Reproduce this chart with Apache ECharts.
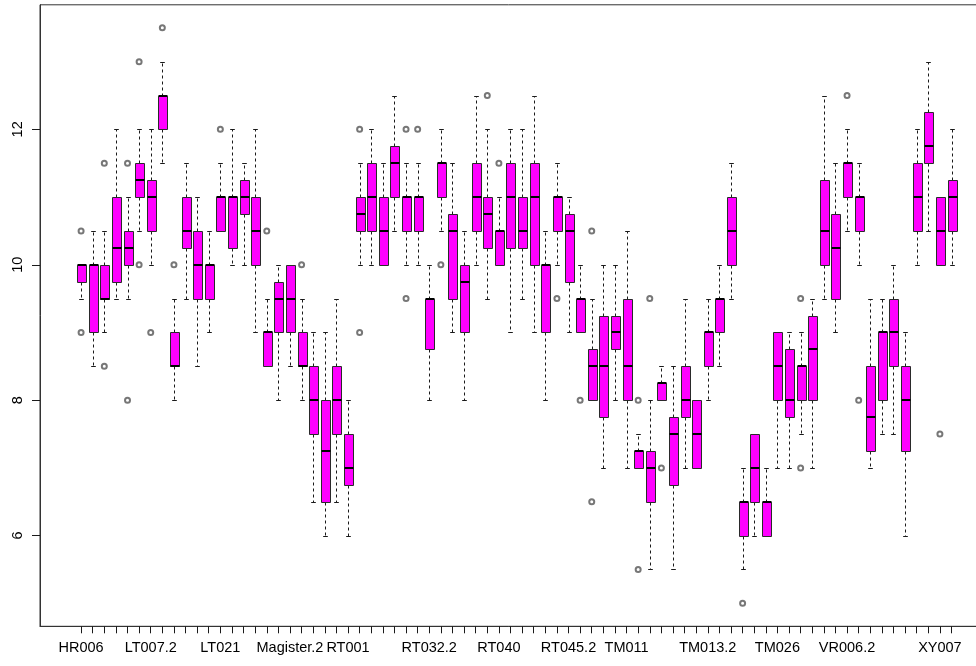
<!DOCTYPE html>
<html><head><meta charset="utf-8">
<script src="https://cdn.jsdelivr.net/npm/echarts@6/dist/echarts.min.js"></script>
<style>html,body{margin:0;padding:0;background:#fff}#c{width:976px;height:666px}</style>
</head><body><div id="c"></div>
<script>
const categories = ["HR006","HR006.2","HR008","HR008.2","LT002","LT002.2","LT007.2","LT009","LT009.2","LT013",
"LT013.2","LT018","LT021","LT021.2","LT025","LT025.2","Magister","Magister.1","Magister.2","Magister.3",
"RS010","RS010.2","RS014","RT001","RT001.2","RT012","RT012.2","RT019","RT019.2","RT032",
"RT032.2","RT034","RT034.2","RT036","RT036.2","RT038","RT040","RT040.2","RT042","RT042.2",
"RT044","RT045","RT045.2","RT049","RT049.2","TM004","TM004.2","TM011","TM011.2","TM012",
"TM012.2","TM012.3","TM013","TM013.1","TM013.2","TM018","TM018.2","TM020","TM020.2","TM024",
"TM026","TM026.2","TM029","TM029.2","VR001","VR006","VR006.2","VR011","VR011.2","VR015",
"VR015.2","XY002","XY002.2","XY005","XY007","XY007.2"];
const whiskerLow = [9.5,8.5,9,9.5,9.5,10.5,10,11.5,8,9.5, 8.5,9,10.5,10,10,9,8.5,8,8.5,8, 6.5,6,6.5,6,10,10,10,10.5,10,10,
8,10.5,9,8,10,9.5,10,9,9.5,9, 8,10,9,9,8,7,8,7,7,5.5, 8,5.5,7,7,8,8.5,9.5,5.5,6,6, 7,7,7.5,7,9.5,9,10.5,10,7,7.5, 7.5,6,10,10.5,10,10];
const quartile1 = [9.75,9,9.5,9.75,10,11,10.5,12,8.5,10.25, 9.5,9.5,10.5,10.25,10.75,10,8.5,9,9,8.5, 7.5,6.5,7.5,6.75,10.5,10.5,10,11,10.5,10.5,
8.75,11,9.5,9,10.5,10.25,10,10.25,10.25,10, 9,10.5,9.75,9,8,7.75,8.75,8,7,6.5, 8,6.75,7.75,7,8.5,9,10,6,6.5,6, 8,7.75,8,8,10,9.5,11,10.5,7.25,8, 8.5,7.25,10.5,11.5,10,10.5];
const median = [10,10,9.5,10.25,10.25,11.25,11,12.5,8.5,10.5, 10,10,11,11,11,10.5,9,9.5,9.5,8.5, 8,7.25,8,7,10.75,11,10.5,11.5,11,11,
9.5,11.5,10.5,9.75,11,10.75,10.5,11,10.5,11, 10,11,10.5,9.5,8.5,8.5,9,8.5,7.25,7, 8.25,7.5,8,7.5,9,9.5,10.5,6.5,7,6.5, 8.5,8,8.5,8.75,10.5,10.25,11.5,11,7.75,9, 9,8,11,11.75,10.5,11];
const quartile3 = [10,10,10,11,10.5,11.5,11.25,12.5,9,11, 10.5,10,11,11,11.25,11,9,9.75,10,9, 8.5,8,8.5,7.5,11,11.5,11,11.75,11,11,
9.5,11.5,10.75,10,11.5,11,10.5,11.5,11,11.5, 10,11,10.75,9.5,8.75,9.25,9.25,9.5,7.25,7.25, 8.25,7.75,8.5,8,9,9.5,11,6.5,7.5,6.5, 9,8.75,8.5,9.25,11.25,10.75,11.5,11,8.5,9, 9.5,8.5,11.5,12.25,11,11.25];
const whiskerHigh = [10,10.5,10.5,12,11,12,12,13,9.5,11.5, 11,10.5,11.5,12,11.5,12,9.5,10,10,9.5, 9,9,9.5,8,11.5,12,11.5,12.5,11.5,11.5,
10,12,11.5,10.5,12.5,12,11,12,12,12.5, 10.5,11.5,11,10,9.5,10,10,10.5,7.5,8, 8.5,8.5,9.5,8,9.5,10,11.5,7,7.5,7, 9,9,9,9.5,12.5,11.5,12,11.5,9.5,9.5, 10,9,12,13,11,12];
const outliers = [[1,10.5],[1,9],[3,11.5],[3,8.5],[5,11.5],[5,8],[6,13],[6,10],[7,9],[8,13.5],[9,10],[13,12],[17,10.5],[20,10],
[25,12],[25,9],[29,12],[29,9.5],[30,12],[32,10],[36,12.5],[37,11.5],[42,9.5],[44,8],[45,10.5],[45,6.5],[49,8],[49,5.5],
[50,9.5],[51,7],[58,5],[63,9.5],[63,7],[67,12.5],[68,8],[75,7.5]];
const shownLabels = [1,7,13,19,24,31,37,43,48,55,61,67,75];
const yTicks = [6,8,10,12];

const n = categories.length;
const boxData = categories.map((c, i) => [i + 1, whiskerLow[i], quartile1[i], median[i], quartile3[i], whiskerHigh[i]]);
const allVals = whiskerLow.concat(whiskerHigh, outliers.map(o => o[1]));
const dMin = Math.min(...allVals), dMax = Math.max(...allVals);
const yPad = (dMax - dMin) * 0.04;
const xPad = 0.5 + 0.04 * n;

const FONT = "'Liberation Sans', Arial, sans-serif";
const INK = '#1a1a1a';

function crisp(v) { return Math.round(v) + 0.5; }

function renderBox(params, api) {
  const x = api.value(0);
  const pLo = api.coord([x, api.value(1)]);
  const pQ1 = api.coord([x, api.value(2)]);
  const pMd = api.coord([x, api.value(3)]);
  const pQ3 = api.coord([x, api.value(4)]);
  const pHi = api.coord([x, api.value(5)]);
  const w = api.size([0.8, 0])[0];
  const cx = crisp(pLo[0]);
  const half = w / 2, st = w / 4;
  const yLo = crisp(pLo[1]), yQ1 = crisp(pQ1[1]), yQ3 = crisp(pQ3[1]), yHi = crisp(pHi[1]);
  const dash = { stroke: INK, lineWidth: 1, lineDash: [3, 3] };
  const solid = { stroke: INK, lineWidth: 1 };
  const bx = Math.round(cx - half) + 0.5, bw = Math.round(w);
  return { type: 'group', children: [
    { type: 'line', shape: { x1: cx, y1: yQ3, x2: cx, y2: yHi }, style: dash },
    { type: 'line', shape: { x1: cx, y1: yQ1, x2: cx, y2: yLo }, style: dash },
    { type: 'line', shape: { x1: cx - st, y1: yHi, x2: cx + st, y2: yHi }, style: solid },
    { type: 'line', shape: { x1: cx - st, y1: yLo, x2: cx + st, y2: yLo }, style: solid },
    { type: 'rect', shape: { x: bx, y: yQ3, width: bw, height: yQ1 - yQ3 },
      style: { fill: '#ff00ff', stroke: '#2a2a2a', lineWidth: 1 } },
    { type: 'line', shape: { x1: bx, y1: Math.round(pMd[1]), x2: bx + bw, y2: Math.round(pMd[1]) },
      style: { stroke: '#000', lineWidth: 2 } }
  ]};
}

const chart = echarts.init(document.getElementById('c'), null, { renderer: 'canvas' });
chart.setOption({
  animation: false,
  backgroundColor: '#fff',
  grid: { left: 40, top: 4.8, right: -16.6, bottom: 39.7, show: true, borderColor: '#333', borderWidth: 1,
          backgroundColor: 'transparent', containLabel: false, outerBoundsMode: 'none' },
  xAxis: {
    type: 'value', min: 1 - xPad, max: n + xPad, position: 'bottom',
    axisLine: { show: true, onZero: false, lineStyle: { color: '#333', width: 1 } },
    splitLine: { show: false },
    axisTick: { show: true, inside: false, length: 7, customValues: categories.map((c, i) => i + 1), lineStyle: { color: INK, width: 1 } },
    axisLabel: { show: true, customValues: shownLabels, formatter: v => categories[Math.round(v) - 1],
                 fontFamily: FONT, fontSize: 14.5, color: '#000', margin: 14, hideOverlap: false }
  },
  yAxis: {
    type: 'value', min: dMin - yPad, max: dMax + yPad, position: 'left',
    axisLine: { show: true, onZero: false, lineStyle: { color: '#333', width: 1 } },
    splitLine: { show: false },
    axisTick: { show: true, inside: false, length: 8, customValues: yTicks, lineStyle: { color: INK, width: 1 } },
    axisLabel: { show: true, customValues: yTicks, rotate: 90, fontFamily: FONT, fontSize: 14.5, color: '#000', margin: 15 }
  },
  series: [
    { type: 'custom', renderItem: renderBox, data: boxData, encode: { x: 0, y: [1, 2, 3, 4, 5] }, clip: false, z: 2 },
    { type: 'scatter', data: outliers, symbol: 'emptyCircle', symbolSize: 5,
      itemStyle: { color: '#555', borderColor: '#555', borderWidth: 0.8 }, z: 3 }
  ]
});
</script></body></html>
